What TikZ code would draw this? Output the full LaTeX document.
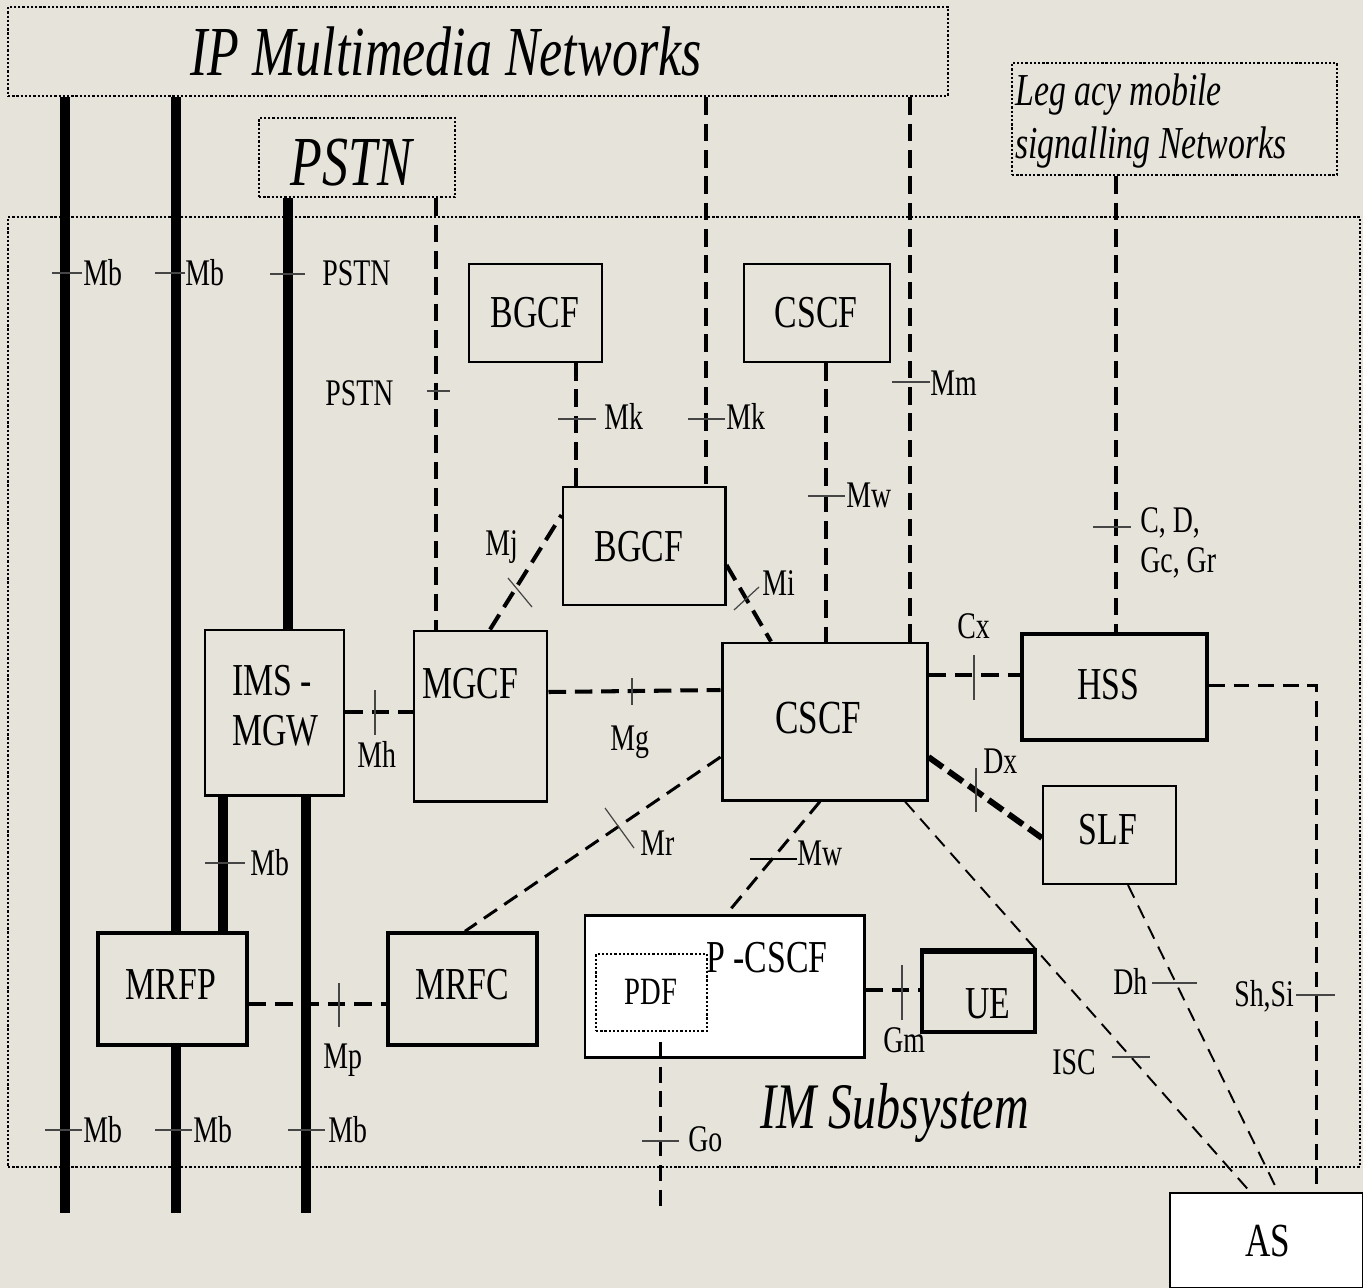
\documentclass[tikz,border=0pt]{standalone}
\usepackage{fontspec}
\newfontfamily\tf[FakeStretch=0.74]{Liberation Serif}
\usetikzlibrary{fit}
\definecolor{bgc}{RGB}{230,228,218}
\definecolor{tickc}{RGB}{70,70,70}
\begin{document}
\begin{tikzpicture}[x=0.02cm,y=-0.02cm,
  frame/.style={draw, line width=1.4pt, dash pattern=on 1.3pt off 1.1pt, inner sep=0pt},
  bx/.style={draw, fill=bgc, line width=1.2pt, inner sep=0pt},
  bxm/.style={bx, line width=1.7pt},
  bxt/.style={bx, line width=2.3pt},
  lbl/.style={font=\tf\fontsize{21.4}{22.7}\selectfont, inner sep=0pt, anchor=base west, align=left},
  blbl/.style={font=\tf\fontsize{26}{28.4}\selectfont, inner sep=0pt, anchor=base west, align=left},
  bname/.style={font=\tf\fontsize{26}{28}\selectfont, inner sep=0pt, anchor=base},
  ttl/.style={font=\tf\itshape\fontsize{40}{44}\selectfont, inner sep=0pt, anchor=base west},
  thickln/.style={line width=5.7pt},
  dsh/.style={line width=2.3pt, dash pattern=on 10pt off 5pt},
  mdsh/.style={line width=1.7pt, dash pattern=on 9pt off 5pt},
  tdsh/.style={line width=1.1pt, dash pattern=on 8pt off 5pt},
  tick/.style={draw=tickc, line width=0.7pt}]
\fill[bgc] (0,0) rectangle (1363,1288);
\useasboundingbox (0,0) rectangle (1363,1288);

% frames
\node[frame, fit={(8,217)(1360,1167)}] (ims) {};
\node[frame, fit={(8,7)(948,96)}] (ipnet) {};
\node[frame, fit={(259,118)(455,197)}] (pstn) {};
\node[frame, fit={(1012,63)(1337,175)}] (legacy) {};
\node[ttl] (tipnet) at (190,75) {IP Multimedia Networks};
\node[ttl] (tpstn) at (290,185) {PSTN};
\node[font=\tf\itshape\fontsize{26}{30}\selectfont, inner sep=0pt, anchor=base west, align=left] (tlegacy) at (1015,158) {Leg acy mobile\\signalling Networks};
\node[font=\tf\itshape\fontsize{37}{40}\selectfont, inner sep=0pt, anchor=base west] (tims) at (760,1128) {IM Subsystem};

% boxes
\node[bx, fit={(469,264)(602,362)}] (bgcf1) {};
\node[bx, fit={(744,264)(890,362)}] (cscf1) {};
\node[bxm, fit={(563,487)(725,605)}] (bgcf2) {};
\node[bxm, fit={(205,630)(344,795)}] (imsmgw) {};
\node[bxm, fit={(414,631)(547,801)}] (mgcf) {};
\node[bxm, fit={(722,643)(927,800)}] (cscf) {};
\node[bxt, fit={(1022,634)(1207,740)}] (hss) {};
\node[bx, fit={(1043,786)(1176,884)}] (slf) {};
\node[bx, line width=2pt, fit={(98,933)(247,1045)}] (mrfp) {};
\node[bx, line width=2pt, fit={(388,933)(537,1045)}] (mrfc) {};
\node[bxm, fill=white, fit={(585,915)(864,1057)}] (pcscf) {};
\node[frame, fit={(596,954)(707,1031)}] (pdf) {};
\node[bx, line width=2pt, fit={(922,952)(1035,1032)}] (ue) {};
\draw[line width=3pt] (ue.north west) -- (ue.north east);
\node[bx, fill=white, line width=1.5pt, fit={(1170,1193)(1363,1288)}] (as) {};

% box names
\node[bname] (nbgcf1) at (535,327) {BGCF};
\node[bname] (ncscf1) at (816,327) {CSCF};
\node[bname] (nbgcf2) at (639,561) {BGCF};
\node[bname, font=\tf\fontsize{27}{28}\selectfont] (ncscf) at (818,733) {CSCF};
\node[bname] (nhss) at (1108,699) {HSS};
\node[bname] (nslf) at (1108,844) {SLF};
\node[bname] (nmrfp) at (171,999) {MRFP};
\node[bname] (nmrfc) at (462,999) {MRFC};
\node[bname, font=\tf\fontsize{22}{24}\selectfont] (npdf) at (651,1004) {PDF};
\node[bname] (nue) at (988,1018) {UE};
\node[bname, font=\tf\fontsize{27}{28}\selectfont] (nas) at (1268,1256) {AS};
\node[blbl] (timsmgw) at (232,745) {IMS -\\MGW};
\node[blbl] (tmgcf) at (422,698) {MGCF};
\node[blbl] (tpcscf) at (706,972) {P -CSCF};

% thick bearer lines
\coordinate (b65) at (65,1213);
\coordinate (b176) at (176,1213);
\coordinate (b306) at (306,1213);
\coordinate (b660) at (660,1213);
\draw[thickln] (ipnet.south -| 65,0) -- (b65);
\draw[thickln] (ipnet.south -| 176,0) -- (mrfp.north -| 176,0);
\draw[thickln] (mrfp.south -| 176,0) -- (b176);
\draw[thickln] (pstn.south -| 288,0) -- (imsmgw.north -| 288,0);
\draw[thickln] (imsmgw.south -| 223,0) -- (mrfp.north -| 223,0);
\draw[thickln] (imsmgw.south -| 306,0) -- (b306);

% dashed signalling lines
\draw[dsh] (pstn.south -| 436,0) -- (mgcf.north -| 436,0);
\draw[dsh] (bgcf1.south -| 576,0) -- (bgcf2.north -| 576,0);
\draw[dsh] (ipnet.south -| 706,0) -- (bgcf2.north -| 706,0);
\draw[dsh] (cscf1.south -| 826,0) -- (cscf.north -| 826,0);
\draw[dsh] (ipnet.south -| 910,0) -- (cscf.north -| 910,0);
\draw[dsh] (legacy.south -| 1116,0) -- (hss.north -| 1116,0);
\draw[dsh] (mgcf.north -| 490,0) -- (bgcf2.west |- 0,515);
\draw[dsh] (bgcf2.east |- 0,565) -- (cscf.north -| 771,0);
\draw[dsh] (imsmgw.east |- 0,712) -- (mgcf.west |- 0,712);
\draw[dsh] (mgcf.east |- 0,692) -- (cscf.west |- 0,690);
\draw[dsh] (cscf.east |- 0,675) -- (hss.west |- 0,675);
\draw[line width=3.4pt, dash pattern=on 10pt off 4pt] (cscf.east |- 0,757) -- (slf.west |- 0,838);
\draw[mdsh] (hss.east |- 0,685) -| (as.north -| 1316,0);
\draw[mdsh] (cscf.west |- 0,757) -- (mrfc.north -| 465,0);
\draw[mdsh] (cscf.south -| 820,0) -- (pcscf.north -| 727,0);
\draw[tdsh] (cscf.south -| 905,0) -- (as.north -| 1250,0);
\draw[tdsh] (slf.south -| 1128,0) -- (as.north -| 1278,0);
\draw[dsh] (pcscf.east |- 0,990) -- (ue.west |- 0,990);
\draw[mdsh] (pdf.south -| 660,0) ++(0,10) -- (b660);
\draw[dsh] (mrfp.east |- 0,1004) -- (mrfc.west |- 0,1004);

% ticks
\draw[tick] (52,273) -- (82,273);
\draw[tick] (155,273) -- (185,273);
\draw[tick] (270,274) -- (305,274);
\draw[tick] (427,391) -- (450,391);
\draw[tick] (558,419) -- (596,419);
\draw[tick] (688,419) -- (725,419);
\draw[tick] (808,496) -- (845,496);
\draw[tick] (892,382) -- (930,382);
\draw[tick] (1093,527) -- (1131,527);
\draw[tick] (508,578) -- (532,607);
\draw[tick] (734,610) -- (759,587);
\draw[tick] (375,690) -- (375,735);
\draw[tick] (632,678) -- (632,705);
\draw[tick] (974,655) -- (974,700);
\draw[tick] (976,768) -- (976,812);
\draw[tick] (605,808) -- (634,848);
\draw[line width=1.3pt] (750,859) -- (797,859);
\draw[tick] (902,965) -- (902,1020);
\draw[tick] (1152,983) -- (1197,983);
\draw[tick] (1296,995) -- (1335,995);
\draw[tick] (1112,1057) -- (1150,1057);
\draw[tick] (642,1141) -- (679,1141);
\draw[tick] (339,983) -- (339,1027);
\draw[tick] (205,863) -- (245,863);
\draw[tick] (45,1130) -- (82,1130);
\draw[tick] (155,1130) -- (192,1130);
\draw[tick] (288,1130) -- (325,1130);

% interface labels
\node[lbl] (lmb1) at (83,285) {Mb};
\node[lbl] (lmb2) at (185,285) {Mb};
\node[lbl] (lpstn1) at (322,285) {PSTN};
\node[lbl] (lpstn2) at (325,405) {PSTN};
\node[lbl] (lmk1) at (604,429) {Mk};
\node[lbl] (lmk2) at (726,429) {Mk};
\node[lbl] (lmw1) at (846,507) {Mw};
\node[lbl] (lmm) at (930,395) {Mm};
\node[lbl] (lcd) at (1140,572) {C, D,\\Gc, Gr};
\node[lbl] (lmj) at (485,555) {Mj};
\node[lbl] (lmi) at (762,595) {Mi};
\node[lbl] (lmh) at (357,767) {Mh};
\node[lbl] (lmg) at (610,750) {Mg};
\node[lbl] (lcx) at (957,638) {Cx};
\node[lbl] (ldx) at (983,773) {Dx};
\node[lbl] (lmr) at (640,855) {Mr};
\node[lbl] (lmw2) at (797,865) {Mw};
\node[lbl] (lgm) at (883,1052) {Gm};
\node[lbl] (ldh) at (1113,994) {Dh};
\node[lbl] (lshsi) at (1234,1006) {Sh,Si};
\node[lbl] (lisc) at (1052,1074) {ISC};
\node[lbl] (lgo) at (688,1151) {Go};
\node[lbl] (lmp) at (323,1068) {Mp};
\node[lbl] (lmb3) at (250,875) {Mb};
\node[lbl] (lmb4) at (83,1142) {Mb};
\node[lbl] (lmb5) at (193,1142) {Mb};
\node[lbl] (lmb6) at (328,1142) {Mb};
\end{tikzpicture}
\end{document}
